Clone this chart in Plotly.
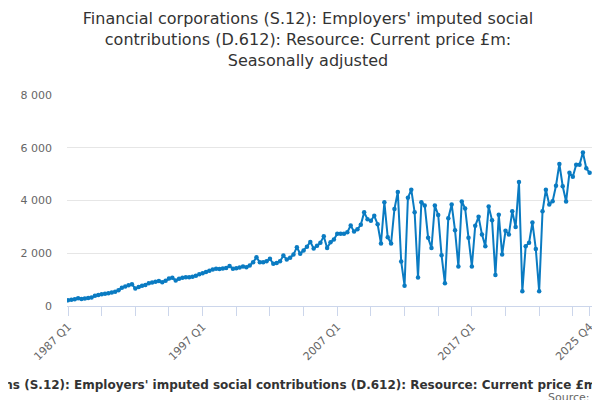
import plotly.graph_objects as go

# quarters 1987 Q1 .. 2025 Q4
quarters = [f"{y} Q{q}" for y in range(1987, 2026) for q in range(1, 5)]

# values (£m)
vals_1987_1996 = [215, 240, 260, 290, 270, 280, 300, 320, 385, 420,
                  445, 460, 480, 510, 540, 600, 690, 740, 790, 820,
                  665, 720, 770, 800, 860, 890, 920, 950, 900, 960,
                  1040, 1075, 970, 1030, 1070, 1090, 1090, 1110, 1150, 1200]
vals_1997_2006 = [1240, 1290, 1340, 1385, 1410, 1400, 1420, 1440, 1520, 1410,
                  1430, 1460, 1500, 1470, 1540, 1655, 1845, 1655, 1660, 1700,
                  1790, 1600, 1630, 1700, 1910, 1760, 1830, 1950, 2230, 1980,
                  2100, 2250, 2430, 2180, 2280, 2400, 2640, 2200, 2420, 2520]
vals_2007_2016 = [2740, 2740, 2740, 2800, 3050, 2820, 2910, 3080, 3550, 3290,
                  3230, 3420, 3100, 2370, 3935, 2610, 2370, 3680, 4320, 1690,
                  770, 4100, 4410, 3550, 1080, 3935, 3810, 2590, 2200, 3810,
                  3450, 1920, 860, 3330, 3850, 2870, 1500, 3960, 3700, 2590]
vals_2017_2025 = [1500, 3040, 3380, 2715, 2270, 3770, 3250, 1180, 3460, 1950,
                  2850, 2715, 3590, 3000, 4700, 560, 2270, 2400, 3165, 2165,
                  560, 3590, 4410, 3850, 3970, 4560, 5385, 4540, 3960, 5050,
                  4900, 5360, 5360, 5820, 5220, 5050]
values = vals_1987_1996 + vals_1997_2006 + vals_2007_2016 + vals_2017_2025

labelled = {"1987 Q1", "1997 Q1", "2007 Q1", "2017 Q1", "2025 Q4"}
tick_pos = quarters[::10] + [quarters[-1]]
tick_txt = [q if q in labelled else "" for q in tick_pos]

title = ("Financial corporations (S.12): Employers' imputed social<br>"
         "contributions (D.612): Resource: Current price £m:<br>"
         "Seasonally adjusted")
caption = ("Financial corporations (S.12): Employers' imputed social contributions "
           "(D.612): Resource: Current price £m: Seasonally adjusted")

fig = go.Figure()
fig.add_trace(go.Scatter(x=quarters, y=values, mode="lines+markers",
                         line=dict(color="#0a7bc2", width=2),
                         marker=dict(color="#0a7bc2", size=4.5),
                         hoverinfo="x+y"))

fig.update_layout(
    width=600, height=400,
    margin=dict(l=57, r=16, t=87, b=102),
    paper_bgcolor="white", plot_bgcolor="white",
    font=dict(family="DejaVu Sans", color="#333333"),
    separators=". ",
    showlegend=False,
    title=dict(text=title, x=0.5, xanchor="center", y=0.96, yanchor="top",
               font=dict(size=16, color="#333333")),
)

fig.update_xaxes(type="category", range=[-0.3, 155.7],
                 tickmode="array", tickvals=tick_pos, ticktext=tick_txt,
                 tickangle=-45, ticks="outside", ticklen=9, tickcolor="#ccd6eb",
                 showline=True, linecolor="#ccd6eb", linewidth=1,
                 showgrid=False, tickfont=dict(size=11, color="#666666"))
fig.update_yaxes(range=[0, 8000], tickvals=[0, 2000, 4000, 6000, 8000],
                 tickformat=",d", showgrid=True, gridcolor="#e6e6e6",
                 zeroline=False, showline=False, ticks="",
                 ticklabelstandoff=14,
                 tickfont=dict(size=11, color="#666666"))

fig.add_annotation(text="<b>" + caption + "</b>", xref="paper", yref="paper",
                   x=0.453, y=-0.376, xanchor="center", yanchor="middle",
                   showarrow=False, font=dict(size=12, color="#333333"))
fig.add_annotation(text="Source:", xref="paper", yref="paper",
                   x=1.0, y=-0.435, xanchor="right", yanchor="middle",
                   showarrow=False, font=dict(size=11, color="#666666"))

fig.write_html("out.html")
